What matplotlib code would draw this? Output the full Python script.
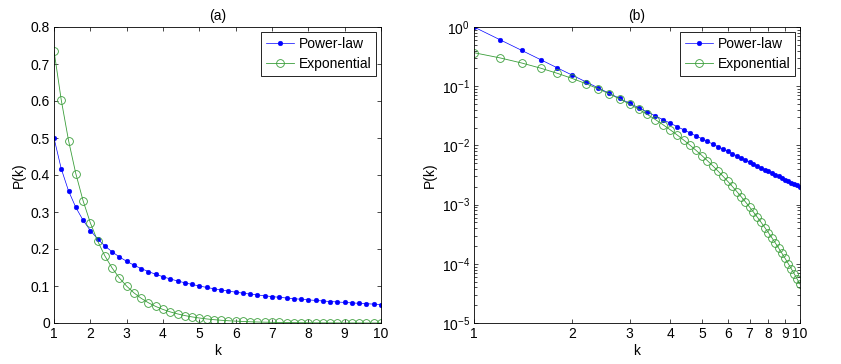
import matplotlib
matplotlib.use('Agg')
import matplotlib.pyplot as plt
from matplotlib.ticker import FixedLocator, NullFormatter, LogLocator

plt.rcParams['font.family'] = ['Liberation Sans', 'DejaVu Sans']
plt.rcParams['font.size'] = 10
plt.rcParams['mathtext.default'] = 'regular'

# k values (same grid in both panels)
k = [1.0, 1.2, 1.4, 1.6, 1.8, 2.0, 2.2, 2.4, 2.6, 2.8,
     3.0, 3.2, 3.4, 3.6, 3.8, 4.0, 4.2, 4.4, 4.6, 4.8,
     5.0, 5.2, 5.4, 5.6, 5.8, 6.0, 6.2, 6.4, 6.6, 6.8,
     7.0, 7.2, 7.4, 7.6, 7.8, 8.0, 8.2, 8.4, 8.6, 8.8,
     9.0, 9.2, 9.4, 9.6, 9.8, 10.0]

# panel (a), linear axes
pow_a = [0.5, 0.4167, 0.3571, 0.3125, 0.2778, 0.25, 0.2273, 0.2083, 0.1923, 0.1786,
         0.1667, 0.1563, 0.1471, 0.1389, 0.1316, 0.125, 0.1190, 0.1136, 0.1087, 0.1042,
         0.1, 0.0962, 0.0926, 0.0893, 0.0862, 0.0833, 0.0806, 0.0781, 0.0758, 0.0735,
         0.0714, 0.0694, 0.0676, 0.0658, 0.0641, 0.0625, 0.0610, 0.0595, 0.0581, 0.0568,
         0.0556, 0.0543, 0.0532, 0.0521, 0.0510, 0.05]
exp_a = [0.7358, 0.6024, 0.4932, 0.4038, 0.3306, 0.2707, 0.2216, 0.1814, 0.1485, 0.1216,
         0.0996, 0.0815, 0.0667, 0.0546, 0.0447, 0.0366, 0.0300, 0.0246, 0.0201, 0.0165,
         0.0135, 0.0110, 0.0090, 0.0074, 0.0061, 0.0050, 0.0041, 0.0033, 0.0027, 0.0022,
         0.0018, 0.0015, 0.0012, 0.0010, 0.0008, 0.0007, 0.0005, 0.0004, 0.0004, 0.0003,
         0.0002, 0.0002, 0.0002, 0.0001, 0.0001, 0.0001]

# panel (b), log-log axes
pow_b = [1.0, 0.6112, 0.4032, 0.2811, 0.2045, 0.1539, 0.1190, 0.09407, 0.07577, 0.06203,
         0.05149, 0.04326, 0.03673, 0.03148, 0.02720, 0.02368, 0.02076, 0.01831, 0.01624, 0.01447,
         0.01297, 0.01166, 0.01053, 0.00954, 0.00868, 0.00793, 0.00725, 0.00666, 0.00613, 0.00565,
         0.00523, 0.00484, 0.00450, 0.00418, 0.00390, 0.00365, 0.00341, 0.00320, 0.00300, 0.00282,
         0.00265, 0.00250, 0.00236, 0.00223, 0.00211, 0.00200]
exp_b = [0.36788, 0.30119, 0.24660, 0.20190, 0.16530, 0.13534, 0.11080, 0.090718, 0.074274, 0.060810,
         0.049787, 0.040762, 0.033373, 0.027324, 0.022371, 0.018316, 0.014996, 0.012277, 0.010052, 0.0082297,
         0.0067379, 0.0055166, 0.0045166, 0.0036979, 0.0030276, 0.0024788, 0.0020294, 0.0016616, 0.0013604, 0.0011138,
         0.00091188, 0.00074659, 0.00061125, 0.00050045, 0.00040973, 0.00033546, 0.00027465, 0.00022487, 0.00018411, 0.00015073,
         0.00012341, 0.00010104, 8.2724e-05, 6.7729e-05, 5.5452e-05, 4.5400e-05]

xticks = [1, 2, 3, 4, 5, 6, 7, 8, 9, 10]
blue = '#0000ff'
green = '#3a9e3a'

fig = plt.figure(figsize=(8.41, 3.64), dpi=100)
ax1 = fig.add_axes([54/841, 41/364, 327/841, 296/364])
ax2 = fig.add_axes([474/841, 41/364, 326/841, 296/364])


def draw(ax, pw, ex):
    ax.plot(k, pw, color=blue, lw=0.5, marker='o', ms=3.4, mfc=blue, mec=blue,
            mew=0.3, label='Power-law')
    ax.plot(k, ex, color=green, lw=0.6, marker='o', ms=5.6, mfc='none', mec=green,
            mew=0.6, label='Exponential')
    ax.tick_params(direction='in', top=True, right=True, length=3, width=0.5, pad=3)
    ax.tick_params(which='minor', direction='in', top=True, right=True, length=2, width=0.5)
    for s in ax.spines.values():
        s.set_linewidth(0.6)
    ax.set_xlabel('k', labelpad=2)
    ax.set_ylabel('P(k)', labelpad=3)
    leg = ax.legend(loc='upper right', fancybox=False, framealpha=1, edgecolor='black',
                    handlelength=2.0, borderaxespad=0.35, handletextpad=0.35,
                    labelspacing=0.45, borderpad=0.35)
    leg.get_frame().set_linewidth(0.6)


draw(ax1, pow_a, exp_a)
ax1.set_xlim(1, 10)
ax1.set_ylim(0, 0.8)
ax1.set_xticks(xticks)
ax1.set_yticks([0, 0.1, 0.2, 0.3, 0.4, 0.5, 0.6, 0.7, 0.8])
ax1.set_yticklabels(['0', '0.1', '0.2', '0.3', '0.4', '0.5', '0.6', '0.7', '0.8'])
ax1.set_title('(a)', fontsize=10, pad=5)

draw(ax2, pow_b, exp_b)
ax2.set_xscale('log')
ax2.set_yscale('log')
ax2.set_xlim(1, 10)
ax2.set_ylim(1e-5, 1)
ax2.xaxis.set_major_locator(FixedLocator(xticks))
ax2.set_xticklabels([str(t) for t in xticks])
ax2.xaxis.set_minor_formatter(NullFormatter())
ax2.xaxis.set_minor_locator(FixedLocator([]))
ax2.yaxis.set_major_locator(LogLocator(base=10, numticks=10))
ax2.yaxis.set_minor_locator(LogLocator(base=10, subs=range(2, 10), numticks=10))
ax2.set_title('(b)', fontsize=10, pad=5)

fig.savefig('out.png', dpi=100)
